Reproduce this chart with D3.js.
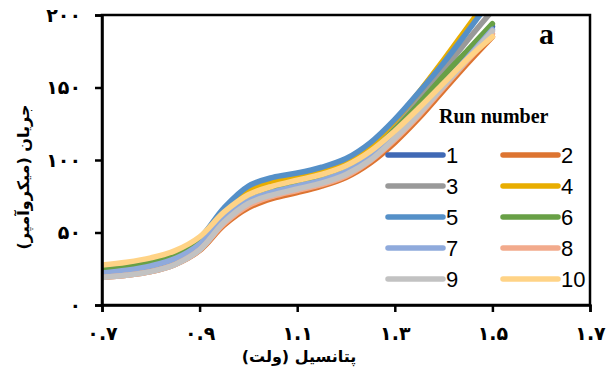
<!DOCTYPE html>
<html>
<head>
<meta charset="utf-8">
<script src="https://cdn.jsdelivr.net/npm/d3@7"></script>
<style>
  body { margin: 0; background: #fff; }
  svg { display: block; }
  .fa { font-family: "DejaVu Sans", sans-serif; font-weight: bold; }
</style>
</head>
<body>
<svg id="chart" width="614" height="371"></svg>
<script>
// voltage (V) and current (uA) for each run
var voltage = [0.70, 0.75, 0.80, 0.85, 0.90, 0.95, 1.00, 1.05, 1.10, 1.15, 1.20, 1.25, 1.30, 1.35, 1.40, 1.45, 1.50];

var run1  = [20, 22, 25, 30, 40, 58, 71, 77, 81, 85, 91, 102, 118, 136, 155, 174, 192];
var run2  = [19, 20.5, 23, 28, 37.5, 55, 67, 73.5, 77.5, 82, 88, 98, 112, 129, 148, 167, 185];
var run3  = [21, 23, 26, 31, 41, 60, 73, 79, 83, 87, 94, 106, 123, 142, 162, 183, 203];
var run4  = [25, 27, 30, 35.5, 46, 65, 79, 85, 88.5, 93, 99, 110, 127, 147, 169, 192, 215];
var run5  = [24, 26, 29.5, 35, 46, 67, 82, 88, 91, 95, 101, 112, 128, 147, 167, 189, 212];
var run6  = [24, 26, 29, 34, 44, 62, 74, 80, 84, 88, 94, 105, 121, 139, 158, 176, 194];
var run7  = [22, 24, 27, 32, 42, 60, 72, 78, 82, 86, 92, 102, 117, 134, 152, 171, 190];
var run8  = [19, 20.5, 23, 28, 38, 56, 68.5, 75, 79, 83, 89, 99.5, 114, 131, 150, 169, 187];
var run9  = [19, 20.5, 23, 28, 38, 57, 70, 76, 80, 84, 90, 100, 115, 132, 151, 170, 189];
var run10 = [27.5, 29.5, 32.5, 37.5, 47, 64, 76, 82, 86, 90, 96, 106, 120, 136, 153, 170, 185];

var runNames = ["1", "2", "3", "4", "5", "6", "7", "8", "9", "10"];
var runColors = ["#4069b5", "#dd7431", "#999999", "#e8ad00", "#5590c8", "#68a046",
                 "#8faadc", "#f2aa8c", "#c2c2c2", "#ffd386"];

var xTicks = [0.7, 0.9, 1.1, 1.3, 1.5, 1.7];
var yTicks = [0, 50, 100, 150, 200];

var runs = [run1, run2, run3, run4, run5, run6, run7, run8, run9, run10];

// Persian digits for the tick labels
function faNum(s) {
  var digits = "۰۱۲۳۴۵۶۷۸۹";
  return String(s).replace(/[0-9]/g, function(c) { return digits[+c]; });
}

var svg = d3.select("#chart"),
    plotLeft = 102, plotRight = 590, plotTop = 15, plotBottom = 305;

var x = d3.scaleLinear().domain([0.7, 1.7]).range([plotLeft, plotRight]),
    y = d3.scaleLinear().domain([0, 200]).range([plotBottom, plotTop]);

svg.append("clipPath").attr("id", "plotClip")
  .append("rect")
    .attr("x", plotLeft).attr("y", plotTop)
    .attr("width", plotRight - plotLeft).attr("height", plotBottom - plotTop);

var line = d3.line()
    .curve(d3.curveCatmullRom.alpha(0.5))
    .x(function(d) { return x(d[0]); })
    .y(function(d) { return y(d[1]); });

svg.append("g")
    .attr("clip-path", "url(#plotClip)")
  .selectAll("path")
  .data(runs)
  .enter().append("path")
    .attr("d", function(r) { return line(voltage.map(function(v, i) { return [v, r[i]]; })); })
    .attr("fill", "none")
    .attr("stroke", function(d, i) { return runColors[i]; })
    .attr("stroke-width", 5.5)
    .attr("stroke-linecap", "round");

// frame around the plot
svg.append("rect")
    .attr("x", plotLeft).attr("y", plotTop)
    .attr("width", plotRight - plotLeft).attr("height", plotBottom - plotTop)
    .attr("fill", "none")
    .attr("stroke", "#000")
    .attr("stroke-width", 2.5);

var xAxis = svg.append("g")
    .attr("transform", "translate(0," + plotBottom + ")")
    .call(d3.axisBottom(x).tickValues(xTicks).tickSize(7).tickPadding(15)
      .tickFormat(function(d) { return faNum(d3.format(".1f")(d)); }));

var yAxis = svg.append("g")
    .attr("transform", "translate(" + plotLeft + ",0)")
    .call(d3.axisLeft(y).tickValues(yTicks).tickSize(7).tickPadding(14)
      .tickFormat(function(d) { return faNum(d); }));

[xAxis, yAxis].forEach(function(ax) {
  ax.select(".domain").attr("stroke-width", 2.5);
  ax.selectAll(".tick line").attr("stroke-width", 2.5);
  ax.selectAll("text")
    .attr("class", "fa")
    .attr("font-size", 19)
    .attr("fill", "#000");
});

// axis titles
svg.append("text")
    .attr("class", "fa")
    .attr("x", 299).attr("y", 362)
    .attr("text-anchor", "middle")
    .attr("font-size", 16)
    .text("پتانسیل (ولت)");

svg.append("text")
    .attr("class", "fa")
    .attr("transform", "translate(29,177) rotate(-90)")
    .attr("text-anchor", "middle")
    .attr("font-size", 16)
    .text("جریان (میکروآمپر)");

// panel letter
svg.append("text")
    .attr("x", 539).attr("y", 44)
    .attr("font-family", "Liberation Serif")
    .attr("font-weight", "bold")
    .attr("font-size", 30)
    .text("a");

// legend
svg.append("text")
    .attr("x", 439).attr("y", 123)
    .attr("font-family", "Liberation Serif")
    .attr("font-weight", "bold")
    .attr("font-size", 20)
    .text("Run number");

var legend = svg.selectAll(".legend")
  .data(runNames)
  .enter().append("g")
    .attr("class", "legend")
    .attr("transform", function(d, i) {
      return "translate(" + (i % 2 ? 503 : 388) + "," + (155 + Math.floor(i / 2) * 31) + ")";
    });

legend.append("line")
    .attr("x1", 0).attr("x2", 55)
    .attr("stroke", function(d, i) { return runColors[i]; })
    .attr("stroke-width", 5.5)
    .attr("stroke-linecap", "round");

legend.append("text")
    .attr("x", 58).attr("y", 8)
    .attr("font-family", "Liberation Sans")
    .attr("font-size", 22)
    .text(function(d) { return d; });
</script>
</body>
</html>
